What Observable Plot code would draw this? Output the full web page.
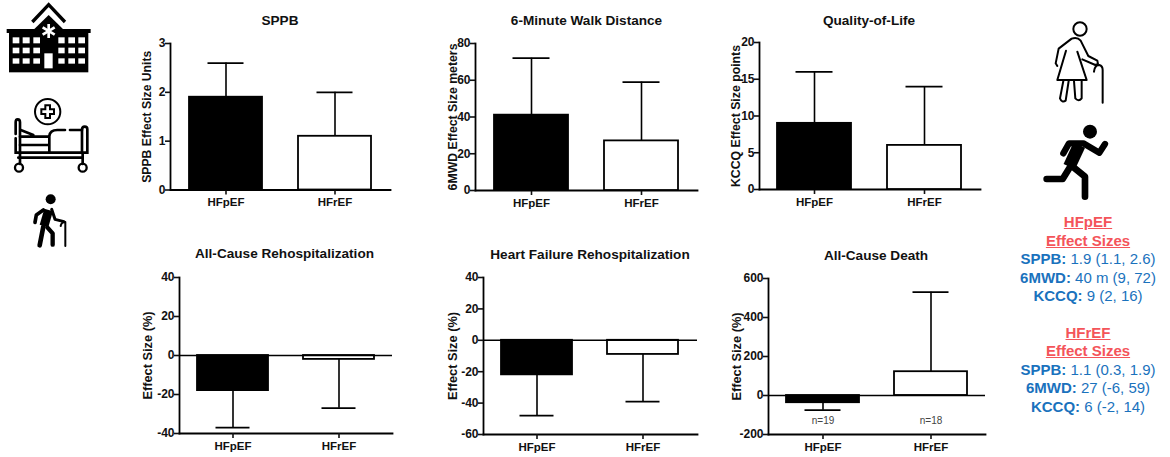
<!DOCTYPE html>
<html>
<head>
<meta charset="utf-8">
<script src="https://cdn.jsdelivr.net/npm/d3@7"></script>
<script src="https://cdn.jsdelivr.net/npm/@observablehq/plot@0.6"></script>
<style>
  html, body { margin: 0; padding: 0; background: #fff; }
  #page { position: relative; width: 1170px; height: 457px; overflow: hidden; font-family: "Liberation Sans", Arial, sans-serif; }
  #page svg { position: absolute; }
  .title { position: absolute; transform: translate(-50%, -50%); font-size: 13.6px; font-weight: bold; color: #111; white-space: nowrap; }
  #summary { position: absolute; left: 988px; top: 213px; width: 200px; text-align: center; font-size: 15px; line-height: 18.5px; color: #1a72bd; }
  #summary .h { color: #f4545a; font-weight: bold; text-decoration: underline; }
  #summary .gap { height: 18px; }
</style>
</head>
<body>
<div id="page">
<svg id="icons" width="1170" height="457" viewBox="0 0 1170 457" style="left:0;top:0">
  <!-- hospital -->
  <g transform="scale(0.3333)">
    <rect x="27" y="95" width="238" height="122"/>
    <rect x="20" y="87" width="252" height="12"/>
    <polygon points="100,90 146,45 192,90"/>
    <polyline points="97,66 146,14 195,66" fill="none" stroke="#000" stroke-width="10"/>
    <g fill="#fff">
      <rect x="38" y="112" width="20" height="18"/><rect x="68" y="112" width="21" height="18"/><rect x="100" y="112" width="20" height="18"/>
      <rect x="38" y="143" width="20" height="17"/><rect x="68" y="143" width="21" height="17"/><rect x="100" y="143" width="20" height="17"/>
      <rect x="38" y="175" width="20" height="16"/><rect x="68" y="175" width="21" height="16"/><rect x="100" y="175" width="20" height="16"/>
      <rect x="175" y="112" width="19" height="18"/><rect x="205" y="112" width="20" height="18"/><rect x="235" y="112" width="20" height="18"/>
      <rect x="175" y="143" width="19" height="17"/><rect x="205" y="143" width="20" height="17"/><rect x="235" y="143" width="20" height="17"/>
      <rect x="175" y="175" width="19" height="16"/><rect x="205" y="175" width="20" height="16"/><rect x="235" y="175" width="20" height="16"/>
      <rect x="133" y="160" width="25" height="45"/>
    </g>
    <g stroke="#fff" stroke-width="8">
      <line x1="146" y1="72" x2="146" y2="114"/><line x1="128" y1="82" x2="164" y2="104"/><line x1="128" y1="104" x2="164" y2="82"/>
    </g>
  </g>
  <!-- bed -->
  <g transform="scale(0.3333)" fill="none" stroke="#000" stroke-width="8" stroke-linecap="round">
    <circle cx="143" cy="335" r="38" stroke-width="6"/>
    <path d="M136 316h14v12h12v14h-12v12h-14v-12h-12v-14h12z" stroke-width="6"/>
    <path d="M47 402V367Q47 358 53 358Q60 358 60 367V458"/>
    <path d="M47 415V458H262V388Q262 380 254 380Q246 380 246 390V458"/>
    <path d="M62 390L100 405M60 410H146M60 435H146"/>
    <path d="M148 458V408Q150 390 172 390H195M210 390H246"/>
    <path d="M55 473H248M60 460V492M248 460V492"/>
    <circle cx="57" cy="503" r="12" stroke-width="7"/>
    <circle cx="248" cy="503" r="12" stroke-width="7"/>
  </g>
  <!-- person with cane, left -->
  <g transform="translate(0,170) scale(0.3333)" fill="none" stroke="#000" stroke-linecap="round" stroke-linejoin="round">
    <circle cx="152" cy="88" r="15" fill="#000" stroke="none"/>
    <path d="M146 120L132 168" stroke-width="27" stroke-linecap="butt"/>
    <path d="M130 170L119 226" stroke-width="14"/>
    <path d="M142 172L158 190V224" stroke-width="13"/>
    <path d="M130 120L109 135L105 157" stroke-width="11"/>
    <path d="M155 118L165 148L192 155" stroke-width="9"/>
    <path d="M182 168Q184 156 196 156V228" stroke-width="6"/>
  </g>
  <!-- woman outline, right -->
  <g transform="translate(1000,0) scale(0.3333)" fill="none" stroke="#000" stroke-width="6" stroke-linecap="round" stroke-linejoin="round">
    <circle cx="240" cy="87" r="20"/>
    <path d="M198 152L172 240H260L232 155"/>
    <path d="M172 198L167 190L176 146L215 116Q232 110 242 122L265 168L292 182L294 192L286 195L247 178"/>
    <path d="M190 243L180 295Q186 310 197 302L206 243M222 243L226 295Q236 306 245 295L245 243"/>
    <path d="M282 215Q284 195 298 195Q308 198 308 210V308"/>
  </g>
  <!-- runner, right -->
  <g transform="translate(1000,0) scale(0.3333)" fill="none" stroke="#000" stroke-linecap="round" stroke-linejoin="round">
    <circle cx="270" cy="395" r="21" fill="#000" stroke="none"/>
    <path d="M190 460L207 430H250L298 458L315 432" stroke-width="19"/>
    <path d="M238 435L208 500" stroke-width="38" stroke-linecap="butt"/>
    <path d="M140 537H188L212 498" stroke-width="20"/>
    <path d="M218 500L255 530V590" stroke-width="20"/>
  </g>
</svg>
<div id="summary"></div>
</div>
<script>
const groups = ["HFpEF", "HFrEF"];

const sppbMean = [1.9, 1.1];
const sppbError = [2.6, 2.0];
const walkMean = [41, 27];
const walkError = [72, 59];
const qolMean = [9, 6];
const qolError = [16, 14];
const allCauseRehospMean = [-18, -2];
const allCauseRehospError = [-37, -27];
const hfRehospMean = [-22, -9];
const hfRehospError = [-48, -39];
const deathMean = [-37, 122];
const deathError = [-75, 530];
const deathCounts = ["n=19", "n=18"];
const deathCountLevel = [-128, -128];

const sppbTicks = [0, 1, 2, 3];
const walkTicks = [0, 20, 40, 60, 80];
const qolTicks = [0, 5, 10, 15, 20];
const allCauseTicks = [-40, -20, 0, 20, 40];
const hfTicks = [-60, -40, -20, 0, 20, 40];
const deathTicks = [-200, 0, 200, 400, 600];

const summaryLines = [
  ["HFpEF", null], ["Effect Sizes", null],
  ["SPPB:", " 1.9 (1.1, 2.6)"], ["6MWD:", " 40 m (9, 72)"], ["KCCQ:", " 9 (2, 16)"],
  ["", ""],
  ["HFrEF", null], ["Effect Sizes", null],
  ["SPPB:", " 1.1 (0.3, 1.9)"], ["6MWD:", " 27 (-6, 59)"], ["KCCQ:", " 6 (-2, 14)"]
];

const page = document.getElementById("page");
const mL = 45, mR = 5, mT = 6, mB = 26;

function panel({title, label, labelSize, mean, error, ticks, axisX, endX, topY, bottomY, labelOffset, titleX, titleY, zero, counts}) {
  const rows = groups.map((group, i) => ({group, mean: mean[i], error: error[i]}));
  const marks = [
    Plot.frame({anchor: "left", stroke: "#000", strokeWidth: 1.8}),
    Plot.frame({anchor: "bottom", stroke: "#000", strokeWidth: 1.8}),
    Plot.axisY({ticks, tickSize: 5, tickPadding: 0, strokeWidth: 1.6, tickFormat: d => String(d), label: null, fontSize: 12}),
    Plot.axisX({tickSize: 5, tickPadding: 3, strokeWidth: 1.6, label: null}),
    Plot.text([label], {frameAnchor: "left", textAnchor: "middle", rotate: -90, dx: -labelOffset, fontSize: labelSize, fontWeight: "bold", fill: "#111"}),
    Plot.ruleX(rows, {x: "group", y1: "mean", y2: "error", stroke: "#000", strokeWidth: 1.6}),
    Plot.tickY(rows, {x: "group", y: "error", stroke: "#000", strokeWidth: 1.8, insetLeft: 18.5, insetRight: 18.5}),
    Plot.barY(rows, {x: "group", y: "mean", fill: "group", stroke: "#000", strokeWidth: 1.8})
  ];
  if (zero) marks.push(Plot.ruleY([0], {stroke: "#000", strokeWidth: 1.6}));
  if (counts) marks.push(Plot.text(groups.map((group, i) => ({group, text: counts[i], level: deathCountLevel[i]})),
    {x: "group", y: "level", text: "text", fontSize: 10, fontWeight: "normal", fill: "#444"}));
  const chart = Plot.plot({
    width: endX - axisX + mL + mR,
    height: bottomY - topY + mT + mB,
    marginLeft: mL, marginRight: mR, marginTop: mT, marginBottom: mB,
    style: {background: "transparent", fontFamily: '"Liberation Sans", Arial, sans-serif', fontSize: "11.5px", fontWeight: "bold", color: "#111", overflow: "visible"},
    x: {domain: groups, paddingInner: 0.327, paddingOuter: 0.164, label: null},
    y: {domain: [ticks[0], ticks[ticks.length - 1]], ticks},
    color: {domain: groups, range: ["#000", "#fff"]},
    marks
  });
  chart.style.left = (axisX - mL) + "px";
  chart.style.top = (topY - mT) + "px";
  page.appendChild(chart);
  const t = document.createElement("div");
  t.className = "title";
  t.textContent = title;
  t.style.left = titleX + "px";
  t.style.top = titleY + "px";
  page.appendChild(t);
}

panel({title: "SPPB", label: "SPPB Effect Size Units", labelSize: 12.2, mean: sppbMean, error: sppbError, ticks: sppbTicks,
  axisX: 170, endX: 390, topY: 42.5, bottomY: 189, labelOffset: 23, titleX: 280, titleY: 20});
panel({title: "6-Minute Walk Distance", label: "6MWD Effect Size meters", labelSize: 12.3, mean: walkMean, error: walkError, ticks: walkTicks,
  axisX: 475, endX: 697, topY: 43, bottomY: 190, labelOffset: 22, titleX: 586.5, titleY: 20});
panel({title: "Quality-of-Life", label: "KCCQ Effect Size points", labelSize: 12.3, mean: qolMean, error: qolError, ticks: qolTicks,
  axisX: 759, endX: 980, topY: 42, bottomY: 189, labelOffset: 23, titleX: 869, titleY: 20});
panel({title: "All-Cause Rehospitalization", label: "Effect Size (%)", labelSize: 12.8, mean: allCauseRehospMean, error: allCauseRehospError, ticks: allCauseTicks,
  axisX: 179, endX: 392, topY: 277, bottomY: 433, labelOffset: 32, titleX: 284.5, titleY: 253, zero: true});
panel({title: "Heart Failure Rehospitalization", label: "Effect Size (%)", labelSize: 12.8, mean: hfRehospMean, error: hfRehospError, ticks: hfTicks,
  axisX: 483, endX: 697, topY: 277, bottomY: 434, labelOffset: 31, titleX: 590, titleY: 254, zero: true});
panel({title: "All-Cause Death", label: "Effect Size (%)", labelSize: 12.8, mean: deathMean, error: deathError, ticks: deathTicks,
  axisX: 768, endX: 985, topY: 278, bottomY: 434, labelOffset: 32, titleX: 876, titleY: 255, zero: true, counts: deathCounts});

const summary = document.getElementById("summary");
for (const [key, rest] of summaryLines) {
  const line = document.createElement("div");
  if (key === "") line.className = "gap";
  else if (rest === null) { line.className = "h"; line.textContent = key; }
  else {
    const b = document.createElement("b");
    b.textContent = key;
    line.appendChild(b);
    line.appendChild(document.createTextNode(rest));
  }
  summary.appendChild(line);
}
</script>
</body>
</html>
